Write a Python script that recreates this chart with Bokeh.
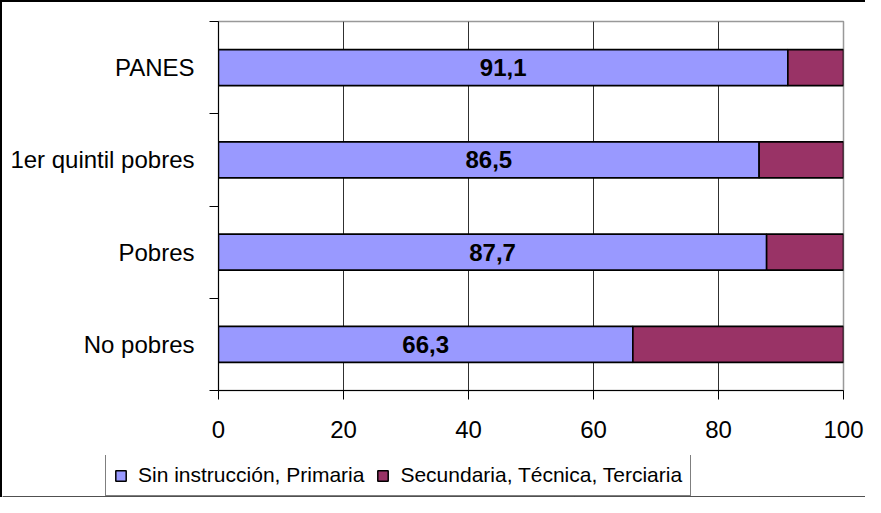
from bokeh.plotting import figure
from bokeh.layouts import column
from bokeh.models import (FixedTicker, Legend, LegendItem, ColumnDataSource,
                          Range1d)
from bokeh.transform import stack
from bokeh.core.properties import value
from bokeh.embed import file_html
from bokeh.resources import INLINE

# ---- data ----
cats = ["PANES", "1er quintil pobres", "Pobres", "No pobres"]
primaria = [91.1, 86.5, 87.7, 66.3]
secundaria = [8.9, 13.5, 12.3, 33.7]
bar_labels = ["91,1", "86,5", "87,7", "66,3"]
x_ticks = [0, 20, 40, 60, 80, 100]
series_names = ["Sin instrucción, Primaria", "Secundaria, Técnica, Terciaria"]
colors = ["#9999FF", "#993366"]

FONT = "Liberation Sans"
n = len(cats)
ypos = [n - 0.5 - i for i in range(n)]
src = ColumnDataSource(dict(y=ypos, prim=primaria, sec=secundaria, lab=bar_labels,
                            mid=[v / 2 for v in primaria]))

p = figure(width=863, height=453, x_range=Range1d(0, 100), y_range=Range1d(0, n),
           output_backend="svg", toolbar_location=None,
           min_border_left=216, min_border_right=22, min_border_top=19,
           min_border_bottom=65)
p.frame_align = False

r1 = p.hbar(y="y", left=0, right="prim", height=0.39, source=src,
            fill_color=colors[0], line_color="black", line_width=1.6)
r2 = p.hbar(y="y", left=stack("prim"), right=stack("prim", "sec"), height=0.39,
            source=src, fill_color=colors[1], line_color="black", line_width=1.6)

p.text(x="mid", y="y", text="lab", source=src, text_align="center",
       text_baseline="middle", text_font=value(FONT), text_font_size="24px",
       text_font_style="bold", text_color="black")

# axes
xa = p.xaxis[0]
xa.ticker = FixedTicker(ticks=x_ticks)
xa.major_tick_out = 9
xa.major_tick_in = 0
xa.minor_tick_line_color = None
xa.axis_line_color = "black"
xa.major_tick_line_color = "black"
xa.major_label_text_font = FONT
xa.major_label_text_font_size = "24px"
xa.major_label_text_color = "black"
xa.major_label_standoff = 21

ya = p.yaxis[0]
ya.ticker = FixedTicker(ticks=ypos, minor_ticks=list(range(n + 1)))
ya.major_label_overrides = {y: c for y, c in zip(ypos, cats)}
ya.major_tick_line_color = None
ya.major_tick_out = 9
ya.major_tick_in = 0
ya.minor_tick_out = 9
ya.minor_tick_in = 0
ya.minor_tick_line_color = "black"
ya.axis_line_color = "black"
ya.major_label_text_font = FONT
ya.major_label_text_font_size = "24px"
ya.major_label_text_color = "black"
ya.major_label_standoff = 15

p.xgrid.ticker = FixedTicker(ticks=x_ticks)
p.xgrid.grid_line_color = "#303030"
p.xgrid.grid_line_width = 1
p.ygrid.visible = False
p.outline_line_color = "#999999"
p.outline_line_width = 1.5

# ---- legend strip (separate figure so the legend is not clipped) ----
# its ranges keep the stand-in bars out of view; only the legend shows
p2 = figure(width=863, height=42, x_range=Range1d(0, 100), y_range=Range1d(100, 101),
            output_backend="svg", toolbar_location=None,
            x_axis_location=None, y_axis_location=None,
            min_border_left=0, min_border_right=0, min_border_top=0,
            min_border_bottom=0)
p2.frame_align = False
p2.grid.visible = False
p2.outline_line_color = None
g1 = p2.hbar(y="y", left=0, right="prim", height=0.39, source=src,
             fill_color=colors[0], line_color="black", line_width=1.5)
g2 = p2.hbar(y="y", left=stack("prim"), right=stack("prim", "sec"), height=0.39,
             source=src, fill_color=colors[1], line_color="black", line_width=1.5)

legend = Legend(items=[LegendItem(label=series_names[0], renderers=[g1]),
                       LegendItem(label=series_names[1], renderers=[g2])],
                orientation="horizontal", location=(103, 1))
legend.border_line_color = "black"
legend.border_line_width = 1.3
legend.background_fill_color = "white"
legend.background_fill_alpha = 1
legend.label_text_font = FONT
legend.label_text_font_size = "21px"
legend.label_text_color = "black"
legend.glyph_width = 13
legend.glyph_height = 13
legend.label_standoff = 11
legend.spacing = 12
legend.padding = 8
legend.margin = 0
p2.add_layout(legend, "center")

layout = column(p, p2, spacing=0)
layout.styles = {"border-left": "2px solid black", "border-top": "2px solid black"}

open("out.html", "w").write(file_html(layout, INLINE))
